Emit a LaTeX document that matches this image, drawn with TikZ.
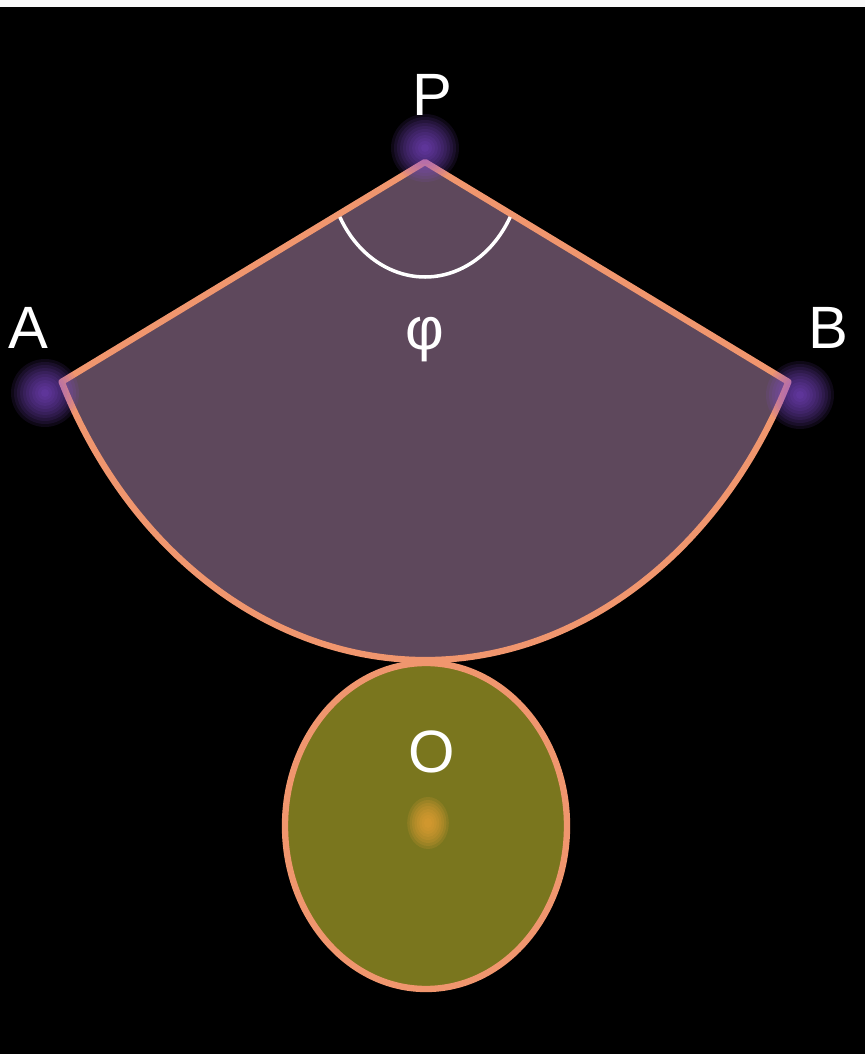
\documentclass[tikz,border=0pt]{standalone}
\usepackage{fontspec}
\setsansfont{Liberation Sans}
\definecolor{sectorfill}{RGB}{94,72,92}
\definecolor{edgeorange}{RGB}{240,150,110}
\definecolor{eggolive}{RGB}{122,118,30}
\definecolor{dotorange}{RGB}{240,165,55}
\definecolor{glowpurple}{RGB}{140,80,225}
\begin{document}
\begin{tikzpicture}[line width=0.8pt,
  edge/.style={draw=edgeorange,line width=1.8pt,line join=round},
  lbl/.style={text=white,inner sep=0pt,font=\sffamily\fontsize{17}{17}\selectfont}]
% background
\useasboundingbox (0,0) rectangle (8.65,10.54);
\fill[black] (0,0) rectangle (8.65,10.54);
\fill[white!95!gray] (0,10.47) rectangle (8.65,10.54);
% points
\coordinate (P) at (4.25,8.92);
\coordinate (O) at (4.26,2.28);
% sector
\draw[edge,fill=sectorfill] (P) -- ++(206.2:4.05 and 4.98) coordinate (A)
  arc[start angle=206.2,end angle=333.8,x radius=4.05,y radius=4.98] coordinate (B) -- cycle;
% angle
\draw[white,line width=1pt] (P) ++(208.6:0.97 and 1.15)
  arc[start angle=208.6,end angle=331.4,x radius=0.97,y radius=1.15];
\node[lbl] (phi) at (4.25,7.14) {φ};
% glows at the vertices
\foreach \g in {(4.25,9.06),(0.45,6.61),(8.00,6.59)}
  \foreach \r in {0.34,0.31,...,0.04}
    \fill[glowpurple,opacity=0.1] \g circle (\r);
\node[lbl] (lblP) at (4.32,9.59) {P};
\node[lbl] (lblA) at (0.28,7.26) {A};
\node[lbl] (lblB) at (8.28,7.26) {B};
% egg
\draw[edge,fill=eggolive] (O) ellipse [x radius=1.41,y radius=1.63];
\foreach \r in {0.26,0.23,...,0.03}
  \fill[dotorange,opacity=0.16] (4.28,2.31) ellipse [x radius=0.8*\r,y radius=\r];
\node[lbl] (lblO) at (4.32,3.02) {O};
\end{tikzpicture}
\end{document}
